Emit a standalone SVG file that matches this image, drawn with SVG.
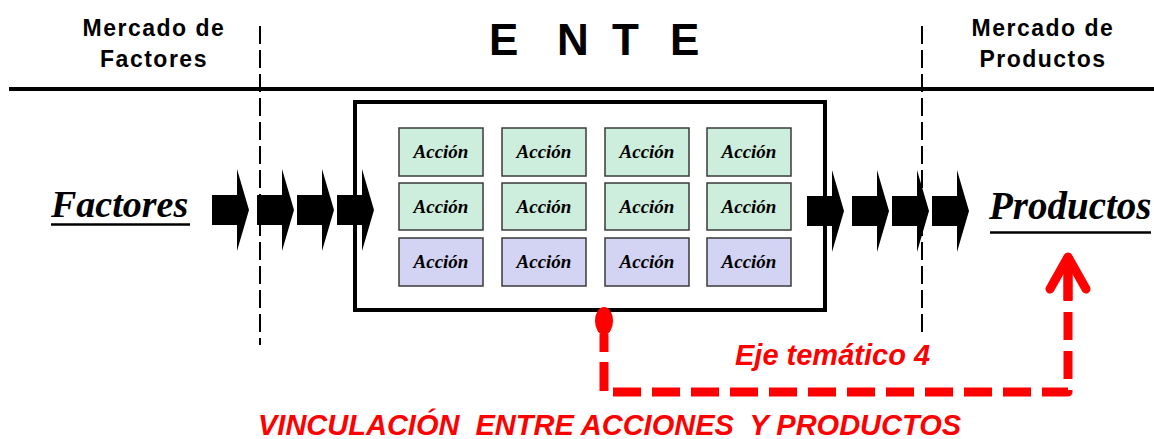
<svg xmlns="http://www.w3.org/2000/svg" width="1154" height="439" viewBox="0 0 1154 439">
<style>
.hdr{font-family:"Liberation Sans",Arial,sans-serif;font-weight:bold;font-size:23px;letter-spacing:1.5px;text-anchor:middle;fill:#000}
.big{font-family:"Liberation Serif","Times New Roman",serif;font-weight:bold;font-style:italic;fill:#000}
.act rect{stroke:#3a3a3a;stroke-width:1.5}
.g rect{fill:#cdeedc}
.p rect{fill:#d3d3f3}
.act text{font-family:"Liberation Serif","Times New Roman",serif;font-weight:bold;font-style:italic;font-size:19px;text-anchor:middle;fill:#000}
.red{font-family:"Liberation Sans",Arial,sans-serif;font-weight:bold;font-style:italic;font-size:29px;fill:#ff0000}
.vdash{stroke:#000;stroke-width:2;stroke-dasharray:18 6;fill:none}
</style>
<defs>
<path id="blk" d="M0,-15 H25 V-41 L37,0 L25,41 V15 H0 Z" fill="#000"/>
</defs>
<rect width="1154" height="439" fill="#fff"/>
<g id="headers">
<text class="hdr" x="154" y="36">Mercado de</text>
<text class="hdr" x="154" y="67">Factores</text>
<text class="hdr" x="1043" y="36">Mercado de</text>
<text class="hdr" x="1043" y="67">Productos</text>
<text x="489 530 557 600 612 655 670" y="55" font-family="'Liberation Sans',Arial,sans-serif" font-weight="bold" font-size="44" fill="#000">E N T E</text>
</g>
<g id="frame">
<line x1="9" y1="89" x2="1154" y2="89" stroke="#000" stroke-width="4"/>
<line class="vdash" x1="260" y1="26" x2="260" y2="345"/>
<line class="vdash" x1="922" y1="26" x2="922" y2="332"/>
</g>
<g id="arrows-in">
<use href="#blk" x="212" y="210"/>
<use href="#blk" x="257" y="210"/>
<use href="#blk" x="297" y="210"/>
<use href="#blk" x="337" y="210"/>
</g>
<g id="arrows-out">
<use href="#blk" x="807" y="211"/>
<use href="#blk" x="852" y="211"/>
<use href="#blk" x="892" y="211"/>
<use href="#blk" x="932" y="211"/>
</g>
<g id="ente">
<rect x="355" y="102" width="470" height="208" fill="none" stroke="#000" stroke-width="4"/>
</g>
<g id="acciones">
<g class="act g" id="a11"><rect x="399" y="128" width="84" height="48"/><text x="441" y="158">Acción</text></g>
<g class="act g" id="a12"><rect x="502" y="128" width="84" height="48"/><text x="544" y="158">Acción</text></g>
<g class="act g" id="a13"><rect x="605" y="128" width="84" height="48"/><text x="647" y="158">Acción</text></g>
<g class="act g" id="a14"><rect x="707" y="128" width="84" height="48"/><text x="749" y="158">Acción</text></g>
<g class="act g" id="a21"><rect x="399" y="183" width="84" height="47"/><text x="441" y="213">Acción</text></g>
<g class="act g" id="a22"><rect x="502" y="183" width="84" height="47"/><text x="544" y="213">Acción</text></g>
<g class="act g" id="a23"><rect x="605" y="183" width="84" height="47"/><text x="647" y="213">Acción</text></g>
<g class="act g" id="a24"><rect x="707" y="183" width="84" height="47"/><text x="749" y="213">Acción</text></g>
<g class="act p" id="a31"><rect x="399" y="238" width="84" height="48"/><text x="441" y="268">Acción</text></g>
<g class="act p" id="a32"><rect x="502" y="238" width="84" height="48"/><text x="544" y="268">Acción</text></g>
<g class="act p" id="a33"><rect x="605" y="238" width="84" height="48"/><text x="647" y="268">Acción</text></g>
<g class="act p" id="a34"><rect x="707" y="238" width="84" height="48"/><text x="749" y="268">Acción</text></g>
</g>
<g id="factores">
<text class="big" x="51" y="217" font-size="38">Factores</text>
<line x1="51" y1="224.5" x2="190" y2="224.5" stroke="#000" stroke-width="2.5"/>
</g>
<g id="productos">
<text class="big" x="989" y="219" font-size="39">Productos</text>
<line x1="990" y1="232.5" x2="1151" y2="232.5" stroke="#000" stroke-width="2.5"/>
</g>
<g id="connector" fill="none" stroke="#ff0000" stroke-width="9">
<ellipse cx="604" cy="321" rx="9" ry="14" fill="#ff0000" stroke="none"/>
<path d="M604,334 V392 H1068 V270" stroke-dasharray="18 10 29 10 28 11 28 11 28 11 28 11 28 11 28 11 28 11 28 11 28 11 28 11 28 11 28 11 28 11 28 11 28 11 28 11" stroke-linejoin="round"/>
<path d="M1050,289 L1068,257 L1086,289" stroke-linejoin="round" stroke-linecap="round"/>
<line x1="1068" y1="258" x2="1068" y2="300"/>
</g>
<g id="labels">
<text class="red" x="735" y="365">Eje temático 4</text>
<text class="red" x="258" y="435" xml:space="preserve">VINCULACIÓN  ENTRE ACCIONES  Y PRODUCTOS</text>
</g>
</svg>
